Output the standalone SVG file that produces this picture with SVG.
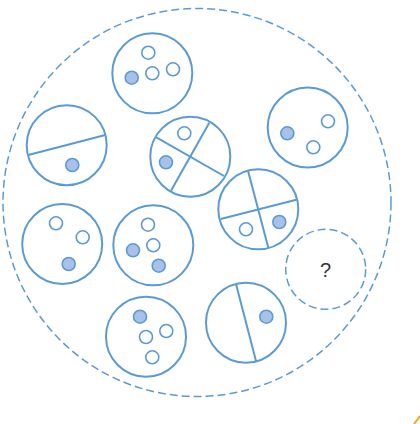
<svg xmlns="http://www.w3.org/2000/svg" width="420" height="424" viewBox="0 0 420 424">
<style>
.big{fill:#fff;stroke:#5b9bd5;stroke-width:2}
.dash{fill:none;stroke:#5b9bd5;stroke-width:1.5;stroke-dasharray:8 4}
.ln{stroke:#5b9bd5;stroke-width:2;fill:none}
.o{fill:#fff;stroke:#5b9bd5;stroke-width:1.6}
.f{fill:#a9c1e8;stroke:#5b9bd5;stroke-width:1.6}
.q{font-family:"Liberation Sans",Arial,sans-serif;font-size:20px;fill:#333}
</style>
<rect width="420" height="424" fill="#fff"/>
<g id="outer"><circle class="dash" cx="197" cy="202.5" r="194"/></g>
<g id="c1"><circle class="big" cx="152.3" cy="73.3" r="40"/><circle class="o" cx="148.3" cy="52.7" r="6.5"/><circle class="o" cx="152.3" cy="73.3" r="6.5"/><circle class="o" cx="173" cy="69.3" r="6.5"/><circle class="f" cx="131.7" cy="77.7" r="6.5"/></g>
<g id="c2"><circle class="big" cx="66.7" cy="145.2" r="40"/><line class="ln" x1="28.3" y1="155" x2="105.3" y2="135"/><circle class="f" cx="72.3" cy="165" r="6.5"/></g>
<g id="c3"><circle class="big" cx="190.3" cy="156.7" r="40"/><line class="ln" x1="156.3" y1="137.3" x2="224" y2="176"/><line class="ln" x1="209.3" y1="122.7" x2="171" y2="190.7"/><circle class="o" cx="184.3" cy="133.3" r="6.5"/><circle class="f" cx="166" cy="162.3" r="6.5"/></g>
<g id="c4"><circle class="big" cx="307.7" cy="127.5" r="40"/><circle class="f" cx="287.3" cy="133.3" r="6.5"/><circle class="o" cx="328" cy="121.3" r="6.5"/><circle class="o" cx="313.3" cy="147.3" r="6.5"/></g>
<g id="c5"><circle class="big" cx="258.3" cy="209.3" r="40"/><line class="ln" x1="248" y1="170.7" x2="268.3" y2="247.7"/><line class="ln" x1="220.7" y1="219" x2="296.3" y2="199.7"/><circle class="o" cx="246" cy="229.3" r="6.5"/><circle class="f" cx="279.3" cy="222" r="6.5"/></g>
<g id="c6"><circle class="big" cx="62.2" cy="244" r="40"/><circle class="o" cx="56" cy="223.3" r="6.5"/><circle class="o" cx="82.7" cy="237.3" r="6.5"/><circle class="f" cx="68.7" cy="264" r="6.5"/></g>
<g id="c7"><circle class="big" cx="153.3" cy="245.3" r="40"/><circle class="o" cx="148" cy="224.7" r="6.5"/><circle class="o" cx="153.3" cy="245.3" r="6.5"/><circle class="f" cx="133" cy="250.3" r="6.5"/><circle class="f" cx="158.7" cy="265.7" r="6.5"/></g>
<g id="c8"><circle class="dash" cx="325.7" cy="269.3" r="40"/><text class="q" x="325.5" y="276.5" text-anchor="middle">?</text></g>
<g id="c9"><circle class="big" cx="146" cy="336.7" r="40"/><circle class="f" cx="140" cy="316.7" r="6.5"/><circle class="o" cx="166.3" cy="331" r="6.5"/><circle class="o" cx="146" cy="337" r="6.5"/><circle class="o" cx="152.3" cy="357.3" r="6.5"/></g>
<g id="c10"><circle class="big" cx="246" cy="322.7" r="40"/><line class="ln" x1="236" y1="284" x2="256" y2="361"/><circle class="f" cx="266.3" cy="316.7" r="6.5"/></g>
<g id="connectors"></g>
<line x1="414" y1="424" x2="420" y2="416" stroke="#f5a623" stroke-width="2"/>
</svg>
